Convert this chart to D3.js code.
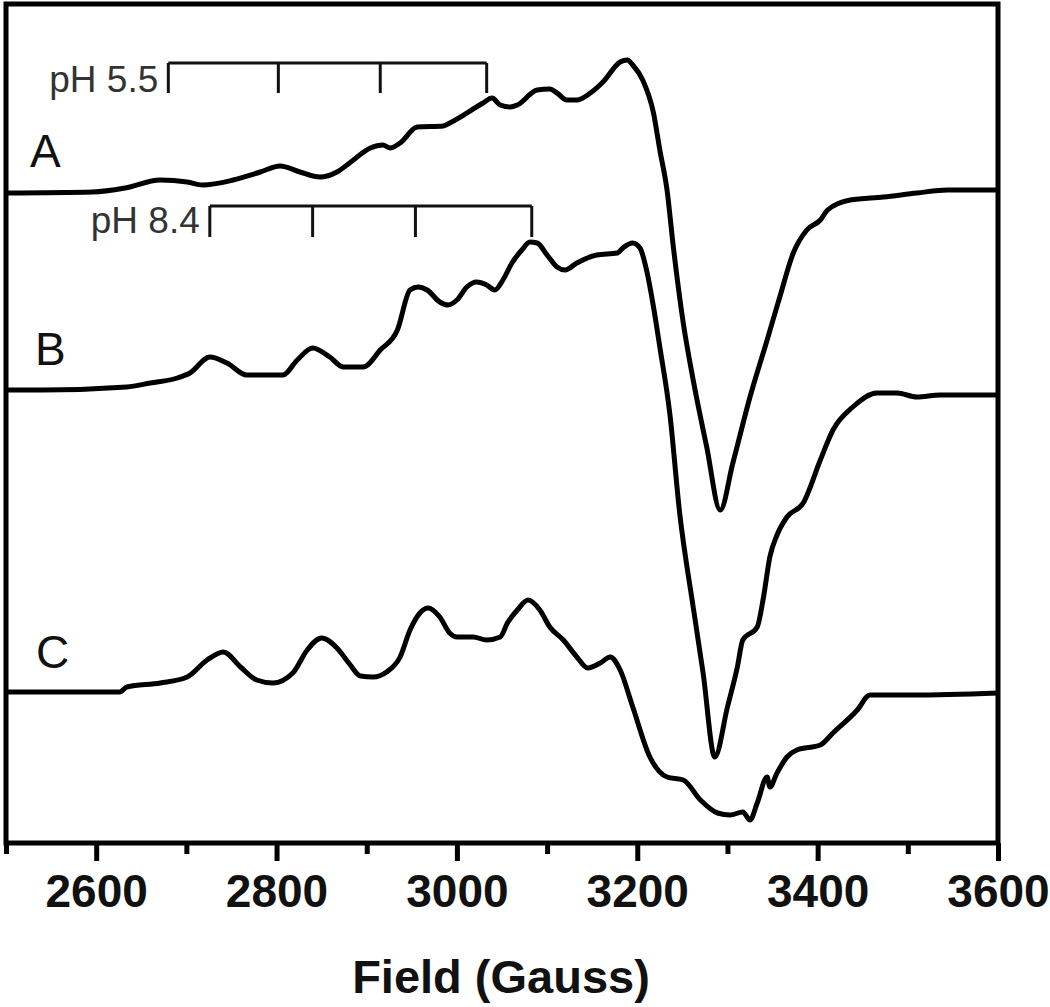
<!DOCTYPE html>
<html lang="en">
    <head>
        <meta charset="UTF-8" />
        <title>EPR spectra</title>
        <style>
            body {
                margin: 0;
                padding: 0;
                background-color: #fff;
            }
            text {
                font-family: 'Liberation Sans', Arial, sans-serif;
            }
        </style>
    </head>
    <body>
        <div id="chart"></div>
        <script src="https://d3js.org/d3.v7.min.js"></script>
        <script>
            // field (Gauss) and derivative signal (arb. units, relative to each baseline)
            const fieldA = [2500, 2596, 2632, 2671, 2701, 2718, 2752, 2782, 2804, 2826, 2848, 2867, 2881, 2904, 2918, 2926, 2937, 2956, 2985, 2992, 3029, 3039, 3048, 3059, 3067, 3089, 3103, 3111, 3122, 3133, 3148, 3162, 3181, 3189, 3195, 3206, 3218, 3225, 3233, 3240, 3251, 3262, 3277, 3292, 3306, 3325, 3344, 3358, 3373, 3388, 3403, 3411, 3436, 3473, 3510, 3544, 3600];
            const signalA = [-3, -2, 2, 10, 8, 5, 10, 18, 24, 18, 13, 18, 27, 42, 45, 42, 47, 63, 64, 67, 87, 92, 85, 83, 85, 100, 101, 97, 90, 90, 97, 108, 128, 130, 125, 110, 77, 40, 0, -57, -133, -190, -257, -320, -273, -207, -150, -107, -63, -40, -30, -20, -10, -7, -3, 0, 0];

            const fieldB = [2500, 2541, 2634, 2660, 2690, 2704, 2726, 2745, 2767, 2807, 2823, 2840, 2859, 2874, 2896, 2915, 2934, 2948, 2957, 2967, 2981, 2990, 3000, 3011, 3022, 3033, 3042, 3051, 3061, 3072, 3081, 3089, 3100, 3111, 3120, 3133, 3155, 3178, 3184, 3195, 3203, 3211, 3218, 3225, 3236, 3247, 3262, 3273, 3286, 3300, 3311, 3317, 3333, 3340, 3347, 3355, 3366, 3384, 3403, 3417, 3439, 3466, 3488, 3510, 3536, 3600];
            const signalB = [0, 0, 3, 7, 12, 17, 33, 27, 15, 15, 30, 42, 33, 23, 23, 40, 60, 100, 103, 100, 88, 85, 90, 103, 108, 105, 100, 110, 127, 140, 148, 147, 135, 123, 120, 127, 135, 137, 142, 147, 142, 117, 83, 43, -23, -123, -217, -283, -367, -317, -277, -250, -237, -207, -167, -145, -127, -113, -70, -40, -17, -3, -3, -7, -5, -5];

            const fieldC = [2500, 2626, 2634, 2671, 2701, 2723, 2741, 2760, 2778, 2796, 2818, 2834, 2850, 2867, 2881, 2893, 2907, 2922, 2937, 2948, 2959, 2968, 2981, 2992, 3000, 3018, 3033, 3048, 3056, 3067, 3079, 3092, 3103, 3118, 3133, 3145, 3159, 3170, 3181, 3195, 3214, 3233, 3251, 3270, 3289, 3303, 3317, 3325, 3333, 3344, 3347, 3355, 3366, 3377, 3403, 3417, 3444, 3458, 3506, 3600];
            const signalC = [0, 0, 5, 9, 15, 32, 40, 25, 12, 9, 19, 42, 54, 44, 28, 16, 15, 20, 35, 62, 79, 84, 75, 59, 55, 55, 52, 55, 69, 82, 92, 82, 65, 52, 35, 24, 29, 35, 22, -15, -65, -85, -88, -108, -121, -123, -120, -128, -111, -85, -95, -81, -65, -58, -53, -41, -18, -3, -3, -1];

            const traceNames = ['A', 'B', 'C'];
            const bracketNames = ['pH 5.5', 'pH 8.4'];
            const bracket55 = [2680, 2802, 2915, 3033];
            const bracket84 = [2726, 2840, 2954, 3083];

            const majorTicks = [2600, 2800, 3000, 3200, 3400, 3600];
            const minorTicks = [2500, 2700, 2900, 3100, 3300, 3500];

            const width = 1050;
            const height = 1007;
            const plotLeft = 6, plotRight = 998, plotTop = 4, plotBottom = 843;

            const svg = d3.select('#chart').append('svg').attr('width', width).attr('height', height);

            const x = d3.scaleLinear().domain([2500, 3600]).range([plotLeft, plotRight]);
            const y = d3.scaleLinear().domain([0, plotBottom - plotTop]).range([plotBottom, plotTop]);

            // vertical offsets of each trace baseline (in y units)
            const offsets = [653, 453, 151];
            const traces = [
                { f: fieldA, s: signalA },
                { f: fieldB, s: signalB },
                { f: fieldC, s: signalC }
            ];

            traces.forEach((t, i) => {
                const pts = t.f.map((f, k) => [f, t.s[k] + offsets[i]]);
                const line = d3
                    .line()
                    .x((d) => x(d[0]))
                    .y((d) => y(d[1]))
                    .curve(d3.curveMonotoneX);
                svg.append('path').datum(pts).attr('fill', 'none').attr('stroke', '#000').attr('stroke-width', 5).attr('stroke-linejoin', 'round').attr('d', line);
            });

            // trace letters
            const labelPos = [
                [30, 167],
                [35, 365],
                [36, 668]
            ];
            traceNames.forEach((n, i) => {
                svg.append('text').attr('x', labelPos[i][0]).attr('y', labelPos[i][1]).style('font-size', '46px').attr('fill', '#111').text(n);
            });

            // hyperfine brackets
            const brackets = [
                { lines: bracket55, bar: 780, leg: 30, textY: 92 },
                { lines: bracket84, bar: 637, leg: 31, textY: 233 }
            ];
            brackets.forEach((b, i) => {
                const g = svg.append('g').attr('stroke', '#111').attr('stroke-width', 3).attr('fill', 'none');
                g.append('line')
                    .attr('x1', x(b.lines[0]))
                    .attr('x2', x(b.lines[b.lines.length - 1]))
                    .attr('y1', y(b.bar))
                    .attr('y2', y(b.bar));
                b.lines.forEach((f) => {
                    g.append('line')
                        .attr('x1', x(f))
                        .attr('x2', x(f))
                        .attr('y1', y(b.bar))
                        .attr('y2', y(b.bar) + b.leg);
                });
                svg.append('text')
                    .attr('x', x(b.lines[0]) - 10)
                    .attr('y', b.textY)
                    .attr('text-anchor', 'end')
                    .style('font-size', '37px')
                    .attr('fill', '#333')
                    .text(bracketNames[i]);
            });

            // frame
            svg.append('rect')
                .attr('x', plotLeft)
                .attr('y', plotTop)
                .attr('width', plotRight - plotLeft)
                .attr('height', plotBottom - plotTop)
                .attr('fill', 'none')
                .attr('stroke', '#000')
                .attr('stroke-width', 5);

            // x axis
            const axis = svg.append('g').attr('transform', `translate(0, ${plotBottom})`);
            axis.call(d3.axisBottom(x).tickValues(majorTicks).tickSize(18).tickFormat(d3.format('d')));
            axis.select('.domain').remove();
            axis.selectAll('.tick line').attr('stroke', '#000').attr('stroke-width', 5);
            axis.selectAll('.tick text')
                .attr('y', 64)
                .attr('dy', null)
                .style('font-size', '46px')
                .style('font-weight', 'bold')
                .style('font-family', "'Liberation Sans', Arial, sans-serif")
                .attr('fill', '#111');

            const minor = svg.append('g').attr('transform', `translate(0, ${plotBottom})`);
            minor.call(d3.axisBottom(x).tickValues(minorTicks).tickSize(11).tickFormat(''));
            minor.select('.domain').remove();
            minor.selectAll('.tick line').attr('stroke', '#000').attr('stroke-width', 5);

            svg.append('text')
                .attr('x', 501)
                .attr('y', 993)
                .attr('text-anchor', 'middle')
                .style('font-size', '47px')
                .style('font-weight', 'bold')
                .attr('fill', '#111')
                .text('Field (Gauss)');
        </script>
    </body>
</html>
